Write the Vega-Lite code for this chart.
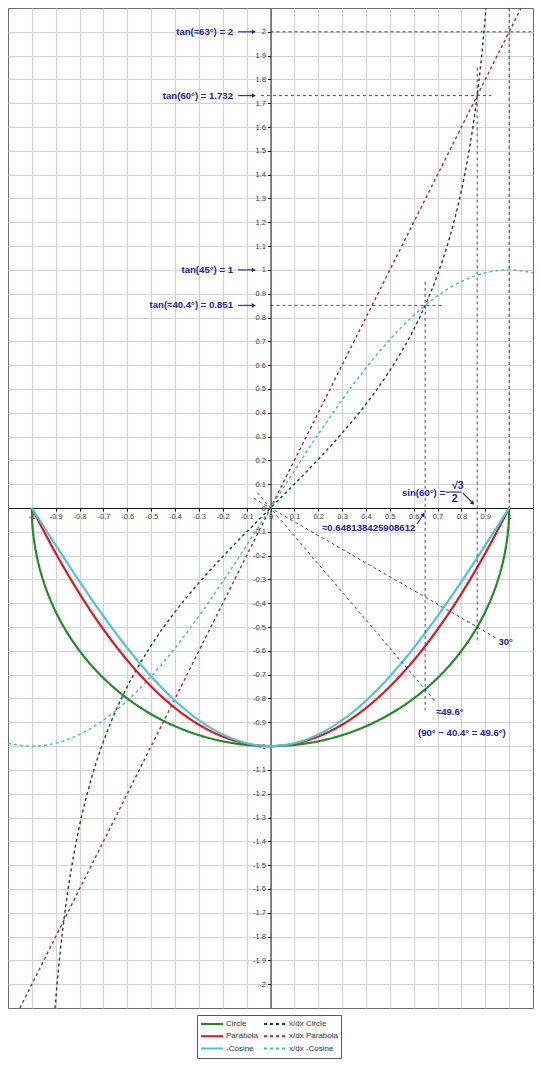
{
  "$schema": "https://vega.github.io/schema/vega-lite/v6.json",
  "width": 525,
  "height": 1000,
  "autosize": {"type": "none"},
  "padding": {"left": 8, "top": 8, "right": 7, "bottom": 57},
  "background": "white",
  "config": {
    "view": {"stroke": "#6b6b6b", "strokeWidth": 1},
    "font": "Liberation Sans",
    "axis": {
      "grid": true,
      "gridColor": "#d2d2d2",
      "gridWidth": 1.2,
      "domainColor": "#1a1a1a",
      "domainWidth": 1,
      "tickColor": "#1a1a1a",
      "tickSize": 3,
      "labelFontSize": 7.5,
      "labelColor": "#3a3a3a",
      "labelFont": "Liberation Sans",
      "labelOverlap": false,
      "labelFlush": false,
      "labelBound": false,
      "title": null
    }
  },
  "datasets": {
    "curves": [
      {"series": "Circle", "x": -1, "y": 0},
      {"series": "Circle", "x": -0.999, "y": -0.0447},
      {"series": "Circle", "x": -0.995, "y": -0.0999},
      {"series": "Circle", "x": -0.99, "y": -0.1411},
      {"series": "Circle", "x": -0.98, "y": -0.199},
      {"series": "Circle", "x": -0.97, "y": -0.2431},
      {"series": "Circle", "x": -0.96, "y": -0.28},
      {"series": "Circle", "x": -0.95, "y": -0.3122},
      {"series": "Circle", "x": -0.925, "y": -0.38},
      {"series": "Circle", "x": -0.9, "y": -0.4359},
      {"series": "Circle", "x": -0.85, "y": -0.5268},
      {"series": "Circle", "x": -0.8, "y": -0.6},
      {"series": "Circle", "x": -0.75, "y": -0.6614},
      {"series": "Circle", "x": -0.7, "y": -0.7141},
      {"series": "Circle", "x": -0.65, "y": -0.7599},
      {"series": "Circle", "x": -0.6, "y": -0.8},
      {"series": "Circle", "x": -0.5, "y": -0.866},
      {"series": "Circle", "x": -0.4, "y": -0.9165},
      {"series": "Circle", "x": -0.3, "y": -0.9539},
      {"series": "Circle", "x": -0.2, "y": -0.9798},
      {"series": "Circle", "x": -0.1, "y": -0.995},
      {"series": "Circle", "x": 0, "y": -1},
      {"series": "Circle", "x": 0.1, "y": -0.995},
      {"series": "Circle", "x": 0.2, "y": -0.9798},
      {"series": "Circle", "x": 0.3, "y": -0.9539},
      {"series": "Circle", "x": 0.4, "y": -0.9165},
      {"series": "Circle", "x": 0.5, "y": -0.866},
      {"series": "Circle", "x": 0.6, "y": -0.8},
      {"series": "Circle", "x": 0.65, "y": -0.7599},
      {"series": "Circle", "x": 0.7, "y": -0.7141},
      {"series": "Circle", "x": 0.75, "y": -0.6614},
      {"series": "Circle", "x": 0.8, "y": -0.6},
      {"series": "Circle", "x": 0.85, "y": -0.5268},
      {"series": "Circle", "x": 0.9, "y": -0.4359},
      {"series": "Circle", "x": 0.925, "y": -0.38},
      {"series": "Circle", "x": 0.95, "y": -0.3122},
      {"series": "Circle", "x": 0.96, "y": -0.28},
      {"series": "Circle", "x": 0.97, "y": -0.2431},
      {"series": "Circle", "x": 0.98, "y": -0.199},
      {"series": "Circle", "x": 0.99, "y": -0.1411},
      {"series": "Circle", "x": 0.995, "y": -0.0999},
      {"series": "Circle", "x": 0.999, "y": -0.0447},
      {"series": "Circle", "x": 1, "y": 0},

      {"series": "Parabola", "x": -1, "y": 0},
      {"series": "Parabola", "x": -0.9, "y": -0.19},
      {"series": "Parabola", "x": -0.8, "y": -0.36},
      {"series": "Parabola", "x": -0.7, "y": -0.51},
      {"series": "Parabola", "x": -0.6, "y": -0.64},
      {"series": "Parabola", "x": -0.5, "y": -0.75},
      {"series": "Parabola", "x": -0.4, "y": -0.84},
      {"series": "Parabola", "x": -0.3, "y": -0.91},
      {"series": "Parabola", "x": -0.2, "y": -0.96},
      {"series": "Parabola", "x": -0.1, "y": -0.99},
      {"series": "Parabola", "x": 0, "y": -1},
      {"series": "Parabola", "x": 0.1, "y": -0.99},
      {"series": "Parabola", "x": 0.2, "y": -0.96},
      {"series": "Parabola", "x": 0.3, "y": -0.91},
      {"series": "Parabola", "x": 0.4, "y": -0.84},
      {"series": "Parabola", "x": 0.5, "y": -0.75},
      {"series": "Parabola", "x": 0.6, "y": -0.64},
      {"series": "Parabola", "x": 0.7, "y": -0.51},
      {"series": "Parabola", "x": 0.8, "y": -0.36},
      {"series": "Parabola", "x": 0.9, "y": -0.19},
      {"series": "Parabola", "x": 1, "y": 0},

      {"series": "-Cosine", "x": -1, "y": 0},
      {"series": "-Cosine", "x": -0.9, "y": -0.1564},
      {"series": "-Cosine", "x": -0.8, "y": -0.309},
      {"series": "-Cosine", "x": -0.7, "y": -0.454},
      {"series": "-Cosine", "x": -0.6, "y": -0.5878},
      {"series": "-Cosine", "x": -0.5, "y": -0.7071},
      {"series": "-Cosine", "x": -0.4, "y": -0.809},
      {"series": "-Cosine", "x": -0.3, "y": -0.891},
      {"series": "-Cosine", "x": -0.2, "y": -0.9511},
      {"series": "-Cosine", "x": -0.1, "y": -0.9877},
      {"series": "-Cosine", "x": 0, "y": -1},
      {"series": "-Cosine", "x": 0.1, "y": -0.9877},
      {"series": "-Cosine", "x": 0.2, "y": -0.9511},
      {"series": "-Cosine", "x": 0.3, "y": -0.891},
      {"series": "-Cosine", "x": 0.4, "y": -0.809},
      {"series": "-Cosine", "x": 0.5, "y": -0.7071},
      {"series": "-Cosine", "x": 0.6, "y": -0.5878},
      {"series": "-Cosine", "x": 0.7, "y": -0.454},
      {"series": "-Cosine", "x": 0.8, "y": -0.309},
      {"series": "-Cosine", "x": 0.9, "y": -0.1564},
      {"series": "-Cosine", "x": 1, "y": 0},

      {"series": "x/dx Circle", "x": -0.903, "y": -2.1018},
      {"series": "x/dx Circle", "x": -0.9, "y": -2.0647},
      {"series": "x/dx Circle", "x": -0.89, "y": -1.9519},
      {"series": "x/dx Circle", "x": -0.88, "y": -1.8527},
      {"series": "x/dx Circle", "x": -0.866, "y": -1.732},
      {"series": "x/dx Circle", "x": -0.85, "y": -1.6136},
      {"series": "x/dx Circle", "x": -0.825, "y": -1.4598},
      {"series": "x/dx Circle", "x": -0.8, "y": -1.3333},
      {"series": "x/dx Circle", "x": -0.75, "y": -1.1339},
      {"series": "x/dx Circle", "x": -0.7, "y": -0.9802},
      {"series": "x/dx Circle", "x": -0.65, "y": -0.8553},
      {"series": "x/dx Circle", "x": -0.6, "y": -0.75},
      {"series": "x/dx Circle", "x": -0.5, "y": -0.5774},
      {"series": "x/dx Circle", "x": -0.4, "y": -0.4364},
      {"series": "x/dx Circle", "x": -0.3, "y": -0.3145},
      {"series": "x/dx Circle", "x": -0.2, "y": -0.2041},
      {"series": "x/dx Circle", "x": -0.1, "y": -0.1005},
      {"series": "x/dx Circle", "x": 0, "y": 0},
      {"series": "x/dx Circle", "x": 0.1, "y": 0.1005},
      {"series": "x/dx Circle", "x": 0.2, "y": 0.2041},
      {"series": "x/dx Circle", "x": 0.3, "y": 0.3145},
      {"series": "x/dx Circle", "x": 0.4, "y": 0.4364},
      {"series": "x/dx Circle", "x": 0.5, "y": 0.5774},
      {"series": "x/dx Circle", "x": 0.6, "y": 0.75},
      {"series": "x/dx Circle", "x": 0.65, "y": 0.8553},
      {"series": "x/dx Circle", "x": 0.7, "y": 0.9802},
      {"series": "x/dx Circle", "x": 0.75, "y": 1.1339},
      {"series": "x/dx Circle", "x": 0.8, "y": 1.3333},
      {"series": "x/dx Circle", "x": 0.825, "y": 1.4598},
      {"series": "x/dx Circle", "x": 0.85, "y": 1.6136},
      {"series": "x/dx Circle", "x": 0.866, "y": 1.732},
      {"series": "x/dx Circle", "x": 0.88, "y": 1.8527},
      {"series": "x/dx Circle", "x": 0.89, "y": 1.9519},
      {"series": "x/dx Circle", "x": 0.9, "y": 2.0647},
      {"series": "x/dx Circle", "x": 0.903, "y": 2.1018},

      {"series": "x/dx Parabola", "x": -1.05, "y": -2.1},
      {"series": "x/dx Parabola", "x": 0, "y": 0},
      {"series": "x/dx Parabola", "x": 1.05, "y": 2.1},

      {"series": "x/dx -Cosine", "x": -1.1, "y": -0.9877},
      {"series": "x/dx -Cosine", "x": -1, "y": -1},
      {"series": "x/dx -Cosine", "x": -0.9, "y": -0.9877},
      {"series": "x/dx -Cosine", "x": -0.8, "y": -0.9511},
      {"series": "x/dx -Cosine", "x": -0.7, "y": -0.891},
      {"series": "x/dx -Cosine", "x": -0.6, "y": -0.809},
      {"series": "x/dx -Cosine", "x": -0.5, "y": -0.7071},
      {"series": "x/dx -Cosine", "x": -0.4, "y": -0.5878},
      {"series": "x/dx -Cosine", "x": -0.3, "y": -0.454},
      {"series": "x/dx -Cosine", "x": -0.2, "y": -0.309},
      {"series": "x/dx -Cosine", "x": -0.1, "y": -0.1564},
      {"series": "x/dx -Cosine", "x": 0, "y": 0},
      {"series": "x/dx -Cosine", "x": 0.1, "y": 0.1564},
      {"series": "x/dx -Cosine", "x": 0.2, "y": 0.309},
      {"series": "x/dx -Cosine", "x": 0.3, "y": 0.454},
      {"series": "x/dx -Cosine", "x": 0.4, "y": 0.5878},
      {"series": "x/dx -Cosine", "x": 0.5, "y": 0.7071},
      {"series": "x/dx -Cosine", "x": 0.6, "y": 0.809},
      {"series": "x/dx -Cosine", "x": 0.7, "y": 0.891},
      {"series": "x/dx -Cosine", "x": 0.8, "y": 0.9511},
      {"series": "x/dx -Cosine", "x": 0.9, "y": 0.9877},
      {"series": "x/dx -Cosine", "x": 1, "y": 1},
      {"series": "x/dx -Cosine", "x": 1.1, "y": 0.9877}
    ],
    "guides": [
      {"x": 0, "y": 2, "x2": 1.1, "y2": 2},
      {"x": -0.04, "y": 1.732, "x2": 0.925, "y2": 1.732},
      {"x": 0, "y": 0.851, "x2": 0.73, "y2": 0.851},
      {"x": 1, "y": 2.1, "x2": 1, "y2": 0},
      {"x": 0.866, "y": 1.85, "x2": 0.866, "y2": -0.57},
      {"x": 0.648, "y": 0.95, "x2": 0.648, "y2": -0.85},
      {"x": -0.07, "y": 0.0404, "x2": 0.946, "y2": -0.546},
      {"x": -0.055, "y": 0.0647, "x2": 0.694, "y2": -0.816}
    ],
    "arrows": [
      {"dir": "e", "x": -0.136, "y": 2, "x2": -0.07, "y2": 2},
      {"dir": "e", "x": -0.136, "y": 1.732, "x2": -0.07, "y2": 1.732},
      {"dir": "e", "x": -0.136, "y": 1, "x2": -0.07, "y2": 1},
      {"dir": "e", "x": -0.136, "y": 0.851, "x2": -0.07, "y2": 0.851},
      {"dir": "se", "x": 0.806, "y": 0.063, "x2": 0.848, "y2": 0.02},
      {"dir": "ne", "x": 0.614, "y": -0.067, "x2": 0.641, "y2": -0.027},
      {"dir": "bar", "x": 0.733, "y": 0.067, "x2": 0.8, "y2": 0.067}
    ],
    "labels": [
      {"pos": "right", "x": -0.157, "y": 2, "label": "tan(≈63°) = 2"},
      {"pos": "right", "x": -0.157, "y": 1.732, "label": "tan(60°) = 1.732"},
      {"pos": "right", "x": -0.157, "y": 1, "label": "tan(45°) = 1"},
      {"pos": "right", "x": -0.157, "y": 0.851, "label": "tan(≈40.4°) = 0.851"},
      {"pos": "left", "x": 0.551, "y": 0.063, "label": "sin(60°) ="},
      {"pos": "left", "x": 0.216, "y": -0.084, "label": "≈0.648138425908612"},
      {"pos": "left", "x": 0.955, "y": -0.563, "label": "30°"},
      {"pos": "left", "x": 0.693, "y": -0.857, "label": "≈49.6°"},
      {"pos": "left", "x": 0.618, "y": -0.945, "label": "(90° − 40.4° = 49.6°)"},
      {"pos": "center", "x": 0.785, "y": 0.094, "label": "√3"},
      {"pos": "center", "x": 0.772, "y": 0.038, "label": "2"}
    ]
  },
  "encoding": {
    "x": {
      "field": "x", "type": "quantitative",
      "scale": {"domain": [-1.1, 1.1], "nice": false, "zero": false},
      "axis": {
        "orient": "bottom", "offset": -500,
        "values": [-1, -0.9, -0.8, -0.7, -0.6, -0.5, -0.4, -0.3, -0.2, -0.1, 0, 0.1, 0.2, 0.3, 0.4, 0.5, 0.6, 0.7, 0.8, 0.9, 1],
        "tickCount": 22,
        "format": "~g",
        "labelExpr": "abs(datum.value) > 1.05 ? '' : replace(datum.label, '−', '-')",
        "labelPadding": 1,
        "title": null
      }
    },
    "y": {
      "field": "y", "type": "quantitative",
      "scale": {"domain": [-2.1, 2.1], "nice": false, "zero": false},
      "axis": {
        "orient": "left", "offset": -262.5,
        "values": [-2, -1.9, -1.8, -1.7, -1.6, -1.5, -1.4, -1.3, -1.2, -1.1, -1, -0.9, -0.8, -0.7, -0.6, -0.5, -0.4, -0.3, -0.2, -0.1, 0, 0.1, 0.2, 0.3, 0.4, 0.5, 0.6, 0.7, 0.8, 0.9, 1, 1.1, 1.2, 1.3, 1.4, 1.5, 1.6, 1.7, 1.8, 1.9, 2],
        "tickCount": 42,
        "format": "~g",
        "labelExpr": "abs(datum.value) > 2.05 ? '' : replace(datum.label, '−', '-')",
        "labelPadding": 2,
        "title": null
      }
    }
  },
  "layer": [
    {
      "data": {"name": "curves"},
      "transform": [{"filter": {"field": "series", "oneOf": ["x/dx Circle", "x/dx Parabola", "x/dx -Cosine"]}}],
      "mark": {"type": "line", "strokeWidth": 1.4, "interpolate": "monotone", "clip": true},
      "encoding": {
        "color": {
          "field": "series", "type": "nominal",
          "scale": {
            "domain": ["Circle", "Parabola", "-Cosine", "x/dx Circle", "x/dx Parabola", "x/dx -Cosine"],
            "range": ["#1f8a24", "#e0161c", "#4cc6d6", "#0d4f12", "#b3262b", "#3fbcc2"]
          },
          "legend": {
            "orient": "none", "legendX": 189, "legendY": 1007,
            "columns": 2, "title": null,
            "padding": 3, "strokeColor": "#555555", "fillColor": "#ffffff",
            "labelFontSize": 8, "labelFont": "Liberation Sans", "labelColor": "#333333",
            "symbolSize": 484, "symbolStrokeWidth": 2, "clipHeight": 12,
            "rowPadding": 0.3, "columnPadding": 4, "labelOffset": 2
          }
        },
        "strokeDash": {
          "field": "series", "type": "nominal",
          "scale": {
            "domain": ["Circle", "Parabola", "-Cosine", "x/dx Circle", "x/dx Parabola", "x/dx -Cosine"],
            "range": [[1, 0], [1, 0], [1, 0], [3, 3], [3, 3], [3, 3]]
          }
        }
      }
    },
    {
      "data": {"name": "curves"},
      "transform": [{"filter": {"field": "series", "oneOf": ["Circle", "Parabola", "-Cosine"]}}],
      "mark": {"type": "line", "strokeWidth": 2.2, "interpolate": "monotone", "clip": true},
      "encoding": {
        "color": {"field": "series", "type": "nominal"},
        "strokeDash": {"field": "series", "type": "nominal"}
      }
    },
    {
      "data": {"name": "guides"},
      "mark": {"type": "rule", "color": "#2b2b80", "strokeWidth": 0.9, "strokeDash": [3, 3]},
      "encoding": {
        "x2": {"field": "x2"},
        "y2": {"field": "y2"}
      }
    },
    {
      "data": {"name": "arrows"},
      "mark": {"type": "rule", "color": "#23239b", "strokeWidth": 1.1},
      "encoding": {
        "x2": {"field": "x2"},
        "y2": {"field": "y2"}
      }
    },
    {
      "data": {"name": "arrows"},
      "transform": [{"filter": "datum.dir == 'e'"}],
      "mark": {"type": "point", "shape": "triangle-right", "filled": true, "color": "#23239b", "size": 22, "opacity": 1, "angle": 0},
      "encoding": {
        "x": {"field": "x2", "type": "quantitative"},
        "y": {"field": "y2", "type": "quantitative"}
      }
    },
    {
      "data": {"name": "arrows"},
      "transform": [{"filter": "datum.dir == 'se'"}],
      "mark": {"type": "point", "shape": "triangle-right", "filled": true, "color": "#23239b", "size": 22, "opacity": 1, "angle": 45},
      "encoding": {
        "x": {"field": "x2", "type": "quantitative"},
        "y": {"field": "y2", "type": "quantitative"}
      }
    },
    {
      "data": {"name": "arrows"},
      "transform": [{"filter": "datum.dir == 'ne'"}],
      "mark": {"type": "point", "shape": "triangle-right", "filled": true, "color": "#23239b", "size": 22, "opacity": 1, "angle": 304},
      "encoding": {
        "x": {"field": "x2", "type": "quantitative"},
        "y": {"field": "y2", "type": "quantitative"}
      }
    },
    {
      "data": {"name": "labels"},
      "transform": [{"filter": "datum.pos == 'right'"}],
      "mark": {"type": "text", "align": "right", "baseline": "middle", "fontSize": 9.6, "fontWeight": "bold", "font": "Liberation Sans", "color": "#23239b"},
      "encoding": {
        "text": {"field": "label"}
      }
    },
    {
      "data": {"name": "labels"},
      "transform": [{"filter": "datum.pos == 'left'"}],
      "mark": {"type": "text", "align": "left", "baseline": "middle", "fontSize": 9.6, "fontWeight": "bold", "font": "Liberation Sans", "color": "#23239b"},
      "encoding": {
        "text": {"field": "label"}
      }
    },
    {
      "data": {"name": "labels"},
      "transform": [{"filter": "datum.pos == 'center'"}],
      "mark": {"type": "text", "align": "center", "baseline": "middle", "fontSize": 10.5, "fontWeight": "bold", "font": "Liberation Sans", "color": "#23239b"},
      "encoding": {
        "text": {"field": "label"}
      }
    }
  ]
}
